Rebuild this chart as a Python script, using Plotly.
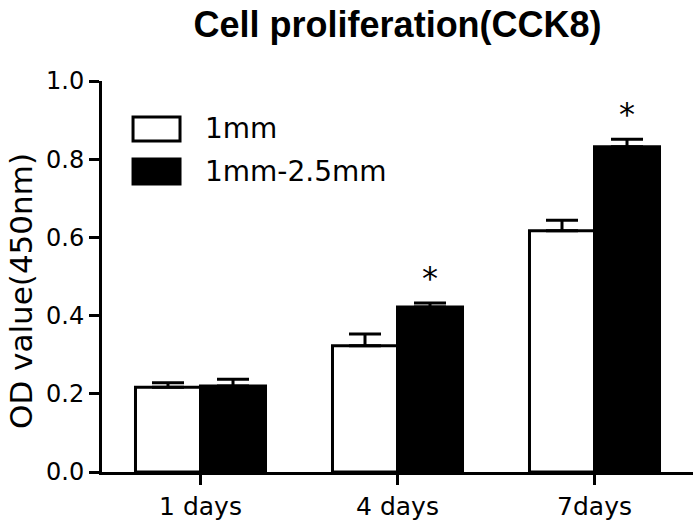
import plotly.graph_objects as go

# data
days = ["1 days", "4 days", "7days"]
series_names = ["1mm", "1mm-2.5mm"]
od_1mm = [0.217, 0.323, 0.617]
err_1mm = [0.011, 0.030, 0.027]
od_25mm = [0.220, 0.422, 0.832]
err_25mm = [0.017, 0.010, 0.019]
significance = ["", "*", "*"]

y_ticks = [0.0, 0.2, 0.4, 0.6, 0.8, 1.0]

bar_gap = 0.34
bar_w = (1 - bar_gap) / 2
text_font = "DejaVu Sans, Arial, sans-serif"

fig = go.Figure()

fig.add_trace(
    go.Bar(
        x=days,
        y=od_1mm,
        name=series_names[0],
        marker=dict(color="white", line=dict(color="black", width=3)),
        error_y=dict(
            type="data",
            symmetric=False,
            array=err_1mm,
            arrayminus=[0] * len(err_1mm),
            color="black",
            thickness=3,
            width=16
        )
    )
)

fig.add_trace(
    go.Bar(
        x=days,
        y=od_25mm,
        name=series_names[1],
        marker=dict(color="black", line=dict(color="black", width=3)),
        error_y=dict(
            type="data",
            symmetric=False,
            array=err_25mm,
            arrayminus=[0] * len(err_25mm),
            color="black",
            thickness=3,
            width=16
        )
    )
)

# significance stars over the 1mm-2.5mm bars
for i, mark in enumerate(significance):
    if mark:
        fig.add_annotation(
            x=i + bar_w / 2,
            y=od_25mm[i] + err_25mm[i],
            text=mark,
            showarrow=False,
            yanchor="bottom",
            yshift=4,
            font=dict(family=text_font, size=32, color="black")
        )

# hand-drawn legend with large boxes, like the original
legend_rows = [
    (series_names[0], "white", 0.908, 0.8465),
    (series_names[1], "black", 0.8005, 0.7366),
]
for label, fill, top, bottom in legend_rows:
    fig.add_shape(
        type="rect",
        xref="paper", yref="paper",
        x0=0.0525, x1=0.132, y0=bottom, y1=top,
        fillcolor=fill,
        line=dict(color="black", width=3)
    )
    fig.add_annotation(
        xref="paper", yref="paper",
        x=0.171, y=(top + bottom) / 2,
        text=label,
        showarrow=False,
        xanchor="left",
        yanchor="middle",
        font=dict(family=text_font, size=28, color="black")
    )

# y axis title
fig.add_annotation(
    xref="paper", yref="paper",
    x=-0.1370, y=0.463,
    text="OD value(450nm)",
    textangle=-90,
    showarrow=False,
    xanchor="center",
    yanchor="middle",
    font=dict(family=text_font, size=31, color="black")
)

fig.update_layout(
    width=700,
    height=532,
    margin=dict(l=102, r=7, t=81, b=60),
    paper_bgcolor="white",
    plot_bgcolor="white",
    barmode="group",
    bargap=bar_gap,
    bargroupgap=0,
    showlegend=False,
    title=dict(
        text="Cell proliferation(CCK8)",
        x=0.568,
        xanchor="center",
        y=0.955,
        yanchor="middle",
        font=dict(family="Liberation Sans, Arial, sans-serif", size=36, color="black", weight="bold")
    )
)

fig.update_xaxes(
    type="category",
    showline=True,
    linecolor="black",
    linewidth=3,
    ticks="outside",
    ticklen=10,
    tickwidth=3,
    tickcolor="black",
    showgrid=False,
    zeroline=False,
    tickfont=dict(family=text_font, size=25, color="black")
)

fig.update_yaxes(
    range=[0, 1.0],
    tickvals=y_ticks,
    tickformat=".1f",
    showline=True,
    linecolor="black",
    linewidth=3,
    ticks="outside",
    ticklen=10,
    tickwidth=3,
    tickcolor="black",
    showgrid=False,
    zeroline=False,
    tickfont=dict(family=text_font, size=24, color="black")
)

# drop the default body margin so the figure fills the window
fig.write_html(
    "out.html",
    config={"displayModeBar": False},
    post_script="document.body.style.margin = '0';"
)
